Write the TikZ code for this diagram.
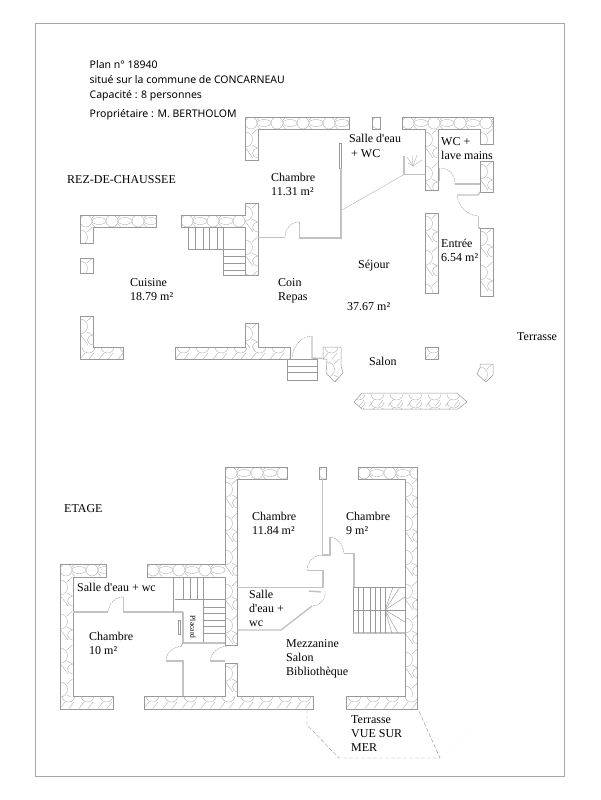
\documentclass[tikz,border=0pt]{standalone}
\usepackage{fontspec}
\setmainfont{Liberation Serif}[Ligatures=TeXOff]
\newfontfamily\headfont{Noto Sans}
\definecolor{planline}{gray}{0.6}
\definecolor{stoneline}{gray}{0.66}
\tikzset{
	room/.style={anchor=base west, align=left, font=\fontsize{12}{14.2}\selectfont, inner sep=0pt},
	head/.style={anchor=base west, font=\headfont\fontsize{10.5}{12}\selectfont, inner sep=0pt},
	wall/.style={draw=planline, line width=0.5pt},
	stone/.style={draw=stoneline, line width=0.35pt},
	part/.style={draw=black!24, line width=1.4pt},
	stair/.style={draw=planline, line width=0.45pt},
	swing/.style={draw=planline, line width=0.4pt, dash pattern=on 2pt off 0.8pt},
	terrace/.style={draw=planline, line width=0.45pt, dash pattern=on 4pt off 2pt}
}
% stones of a horizontal wall: x1 x2 ytop
\newcommand{\hstones}[3]{
	\begin{scope}
		\clip (#1,#3) rectangle (#2,#3+12.5);
		\foreach \k in {0,...,11} {
			\draw[stone] ({#1+26*\k+6},#3+6) circle (6);
			\draw[stone] ({#1+26*\k+19},#3+6) ellipse [x radius=7, y radius=3.5];
			\draw[stone] ({#1+26*\k+12},#3+3) -- ({#1+26*\k+15},#3);
			\draw[stone] ({#1+26*\k+12},#3+9) -- ({#1+26*\k+15},#3+12.5);
		}
	\end{scope}
}
% scallops of a lower wall: x1 x2 ytop
\newcommand{\hwaves}[3]{
	\begin{scope}
		\clip (#1,#3) rectangle (#2,#3+12.5);
		\foreach \k in {0,...,11} {
			\draw[stone] ({#1+19*\k+2},#3) arc (180:0:6.5 and 6);
			\draw[stone] ({#1+19*\k},#3+12.5) -- ({#1+19*\k+5},#3+6);
			\draw[stone] ({#1+19*\k+14},#3+6) -- ({#1+19*\k+9},#3+12.5);
		}
	\end{scope}
}
% stones of a vertical wall: xleft y1 y2
\newcommand{\vstones}[3]{
	\begin{scope}
		\clip (#1,#2) rectangle (#1+12.5,#3);
		\foreach \k in {0,...,10} {
			\draw[stone] (#1,{#2+34*\k+3}) arc (-90:90:7.5 and 7.5);
			\draw[stone] (#1+12.5,{#2+34*\k+19}) arc (270:90:5 and 5);
			\draw[stone] (#1+7,{#2+34*\k+5}) -- (#1+12.5,{#2+34*\k});
			\draw[stone] (#1+7,{#2+34*\k+16}) -- (#1+12.5,{#2+34*\k+19});
			\draw[stone] (#1,{#2+34*\k+18}) -- (#1+8,{#2+34*\k+29});
		}
	\end{scope}
}
\begin{document}
\begin{tikzpicture}[x=1pt, y=-1pt]
	\useasboundingbox (0,0) rectangle (600,800);
	\draw[draw=black!35, line width=0.9pt] (35.5,23.5) rectangle (564,776);

	% title block
	\node[head] (plan) at (89.5,68) {Plan n° 18940};
	\node[head] (commune) at (89.5,83) {situé sur la commune de CONCARNEAU};
	\node[head] (capacite) at (89.5,98) {Capacité : 8 personnes};
	\node[head] (proprio) at (89.5,117) {Propriétaire : M. BERTHOLOM};

	% rez-de-chaussee, stones
	\hstones{245}{349}{117} \vstones{245}{129}{160} \hstones{372}{380}{117}
	\hstones{402}{493}{117} \vstones{425}{129}{190} \vstones{480}{129}{144}
	\vstones{480}{161}{192} \vstones{425}{213}{293} \vstones{480}{228}{296}
	\hstones{80}{156}{215} \vstones{80}{227}{243} \vstones{80}{258}{273}
	\hstones{181}{245}{215} \vstones{245}{203}{275}
	\vstones{80}{316}{347} \hwaves{80}{123}{347} \hwaves{175}{290}{347} \vstones{245}{323}{347}
	\hwaves{323}{341}{347}
	\begin{scope}
		\clip (327,359) -- (341,359) -- (341,366) -- (343,373) -- (335,382) -- (326,373) -- cycle;
		\vstones{327}{359}{382}
	\end{scope}
	\hwaves{425}{438}{347}
	\begin{scope}
		\clip (480,364) -- (493,364) -- (493,375) -- (486,382) -- (477,374) -- (480,368) -- cycle;
		\vstones{480}{364}{382}
	\end{scope}
	\begin{scope}
		\clip (354,402) -- (362,393) -- (457,393) -- (467,402) -- (458,409) -- (362,409) -- cycle;
		\hwaves{350}{470}{394}
		\hwaves{350}{470}{402}
	\end{scope}

	% rez-de-chaussee, wall outlines
	\draw[wall] (349,117) -- (245,117) -- (245,160) -- (258,160) -- (258,129) -- (349,129) -- cycle;
	\draw[wall] (372,117) rectangle (380,129);
	\draw[wall] (402,117) -- (493,117) -- (493,144) -- (480,144) -- (480,129) -- (438,129) -- (438,190) -- (425,190) -- (425,129) -- (402,129) -- cycle;
	\draw[wall] (480,161) rectangle (493,192);
	\draw[wall] (425,213) rectangle (438,293);
	\draw[wall] (480,228) rectangle (493,296);
	\draw[wall] (80,215) -- (156,215) -- (156,227) -- (93,227) -- (93,243) -- (80,243) -- cycle;
	\draw[wall] (80,258) rectangle (93,273);
	\draw[wall] (181,215) -- (245,215) -- (245,203) -- (258,203) -- (258,275) -- (245,275) -- (245,227) -- (181,227) -- cycle;
	\draw[wall] (80,316) -- (93,316) -- (93,347) -- (123,347) -- (123,359) -- (80,359) -- cycle;
	\draw[wall] (175,347) -- (245,347) -- (245,323) -- (258,323) -- (258,347) -- (290,347) -- (290,359) -- (175,359) -- cycle;
	\draw[wall] (323,347) -- (341,347) -- (341,366) -- (343,373) -- (335,382) -- (326,373) -- (327,359) -- (323,359) -- cycle;
	\draw[wall] (425,347) rectangle (438,359);
	\draw[wall] (480,364) -- (493,364) -- (493,375) -- (486,382) -- (477,374) -- (480,368) -- cycle;
	\draw[wall] (354,402) -- (362,393) -- (457,393) -- (467,402) -- (458,409) -- (362,409) -- cycle;

	% rez-de-chaussee, partitions
	\draw[wall] (339,143) -- (339,168) -- (341,168) -- (341,143) -- cycle;
	\draw[part] (341,168) -- (341,238) -- (299.5,238) -- (299.5,222);
	\draw[part] (258,237.5) -- (285,237.5);
	\draw[stone] (342,210) -- (404,174.5);
	\draw[part] (404,156) -- (404,174.5) -- (425,174.5);
	\foreach \endx/\endy in {407/157, 412/155, 417/155, 422/160, 408/163} {
		\draw[stone] (413,166) -- (\endx,\endy);
	}
	\draw[part] (439.5,168) -- (439.5,181);
	\draw[part] (455,184) -- (480,184);
	\draw[part] (457,195) -- (478,195) -- (480,192);
	\draw[part] (478.5,216) -- (478.5,228) -- (480,228);
	\draw[swing] (441,168) .. controls (450,169) and (455,175) .. (455,184);
	\draw[swing] (457,196) .. controls (459,207) and (467,215) .. (478,216);
	\draw[swing] (299,222) .. controls (291,222) and (285,229) .. (285,237);
	\draw[swing] (311,336) .. controls (301,337) and (293,346) .. (292,358);

	% rez-de-chaussee, stairs
	\draw[stair] (188,227) rectangle (223,249);
	\foreach \treadx in {195,203,209,217} {
		\draw[stair] (\treadx,227) -- (\treadx,249);
	}
	\draw[stair] (223,249) rectangle (245,275);
	\foreach \tready in {256,263,270} {
		\draw[stair] (223,\tready) -- (245,\tready);
	}
	\draw[stair] (287,359) rectangle (317,380);
	\foreach \tready in {366,372} {
		\draw[stair] (287,\tready) -- (317,\tready);
	}
	\draw[part] (312,336) -- (312,358) -- (323,358.5);

	% rez-de-chaussee, labels
	\node[room] (rdc) at (67,183) {REZ-DE-CHAUSSEE};
	\node[room] (chambreA) at (271,195.2) {Chambre\\11.31 m²};
	\node[room] (sdbA) at (349,142) {Salle d'eau};
	\node[room] (sdbAb) at (351,157) {+ WC};
	\node[room] (wc) at (441,159.2) {WC +\\lave mains};
	\node[room] (entree) at (441,261.2) {Entrée\\6.54 m²};
	\node[room] (cuisine) at (130,300.2) {Cuisine\\18.79 m²};
	\node[room] (repas) at (278,300.2) {Coin\\Repas};
	\node[room] (sejour) at (358,268) {Séjour};
	\node[room] (surf) at (347,310) {37.67 m²};
	\node[room] (salon) at (369,365) {Salon};
	\node[room] (terrasseA) at (517,340) {Terrasse};

	% etage, stones
	\hstones{60}{106}{564} \vstones{60}{577}{696} \hwaves{60}{113}{696}
	\hstones{147}{225}{564} \vstones{225}{479}{645} \hstones{225}{287}{467}
	\hwaves{144}{313}{696} \vstones{225}{663}{696}
	\hstones{319}{326}{467} \hstones{358}{417}{467} \vstones{405}{479}{696} \hwaves{346}{417}{696}

	% etage, wall outlines
	\draw[wall] (60,564) -- (106,564) -- (106,577) -- (73,577) -- (73,696) -- (113,696) -- (113,709) -- (60,709) -- cycle;
	\draw[wall] (147,564) -- (225,564) -- (225,467) -- (287,467) -- (287,479) -- (237,479) -- (237,645) -- (225,645) -- (225,577) -- (147,577) -- cycle;
	\draw[wall] (144,696) -- (225,696) -- (225,663) -- (237,663) -- (237,696) -- (313,696) -- (313,709) -- (144,709) -- cycle;
	\draw[wall] (319,467) rectangle (326,479);
	\draw[wall] (358,467) -- (417,467) -- (417,709) -- (346,709) -- (346,696) -- (405,696) -- (405,479) -- (358,479) -- cycle;

	% etage, partitions
	\draw[part] (322.5,479) -- (322.5,555);
	\draw[part] (330,537) -- (330,555) -- (322,555);
	\draw[part] (344,553.5) -- (354,553.5) -- (354,587);
	\draw[swing] (331,537) .. controls (338,538) and (343,545) .. (344,553);
	\draw[swing] (322,555) .. controls (314,555) and (307,562) .. (307,570);
	\draw[part] (307,570.5) -- (323,570.5) -- (323,587.5) -- (237,587.5);
	\draw[part] (309,591) -- (321,592);
	\draw[swing] (325,591) .. controls (326,599) and (320,606) .. (313,606);
	\draw[part] (312,606) -- (281,630) -- (237,630);
	\draw[part] (73,612) -- (108,612);
	\draw[part] (123.5,597) -- (123.5,612) -- (183,612);
	\draw[swing] (123,597) .. controls (115,597) and (109,604) .. (108,612);
	\draw[wall] (178,620) rectangle (180,634);
	\draw[part] (183,612) -- (183,643) -- (225,643);
	\draw[wall] (183,643) -- (181,646);
	\draw[swing] (182,646) .. controls (173,647) and (166,653) .. (166,660);
	\draw[part] (166,661) -- (183,661) -- (183,696);
	\draw[swing] (227,646) .. controls (218,647) and (211,653) .. (210,660);
	\draw[part] (210,661) -- (225,661);

	% etage, stairs
	\draw[stair] (173,577) -- (173,612);
	\draw[stair] (175,599) -- (225,599);
	\foreach \treadx in {183,190,197,203} {
		\draw[stair] (\treadx,577) -- (\treadx,599);
	}
	\draw[stair] (203,599) -- (203,642);
	\foreach \tready in {607,613,620,626,633} {
		\draw[stair] (203,\tready) -- (225,\tready);
	}
	\draw[stair] (353,587) rectangle (405,633);
	\draw[part] (353,633) -- (405,633);
	\foreach \treadx in {358,363,370,375,380,385} {
		\draw[stair] (\treadx,587) -- (\treadx,633);
	}
	\draw[stair] (353,610) -- (385,610);
	\foreach \endx/\endy in {393/587, 400/587, 405/597, 405/610, 405/622, 398/633, 392/633} {
		\draw[stair] (385,610) -- (\endx,\endy);
	}

	% etage, terrasse
	\draw[terrace] (307,709) -- (307,725) -- (339,758) -- (440,758) -- (418,709);
	\draw[black!12, line width=0.4pt, dash pattern=on 1pt off 8pt] (417,467) -- (473,467) -- (473,730) -- (440,758);

	% etage, labels
	\node[room] (etage) at (64,512) {ETAGE};
	\node[room] (chambreB) at (252,534.2) {Chambre\\11.84 m²};
	\node[room] (chambreC) at (346,534.2) {Chambre\\9 m²};
	\node[room] (sdbB) at (249,626.4) {Salle\\d'eau +\\wc};
	\node[room] (sdbC) at (77,591) {Salle d'eau + wc};
	\node[room] (chambreD) at (89,654.2) {Chambre\\10 m²};
	\node[room] (mezza) at (286,675.4) {Mezzanine\\Salon\\Bibliothèque};
	\node[room] (terrasseB) at (351,751.4) {Terrasse\\VUE SUR\\MER};
	\node[inner sep=0pt, rotate=-90, font=\fontsize{7.5}{9}\selectfont] (placard) at (193,627) {Placard};
\end{tikzpicture}
\end{document}
